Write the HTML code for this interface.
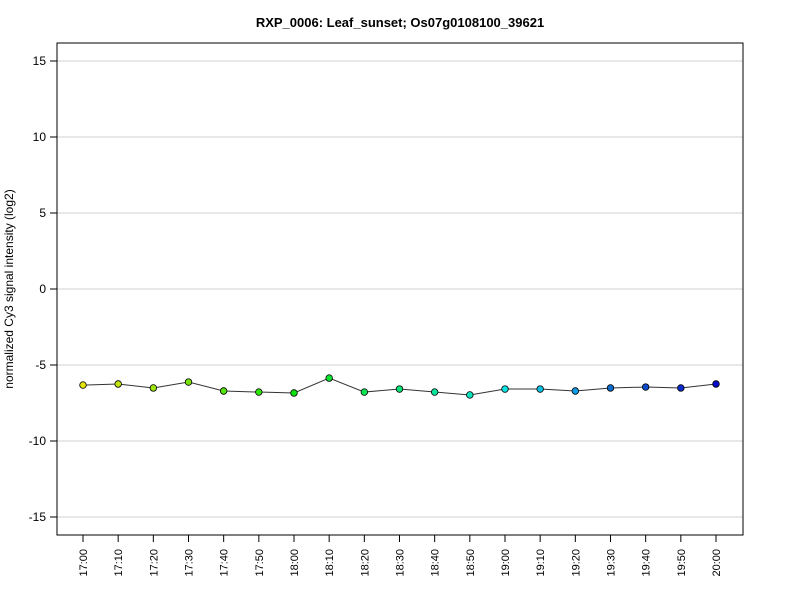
<!DOCTYPE html>
<html><head><meta charset="utf-8"><style>
body{margin:0;background:#fff;font-family:"Liberation Sans",sans-serif;}
</style></head><body>
<svg id="chart" width="800" height="600" xmlns="http://www.w3.org/2000/svg" font-family="Liberation Sans, sans-serif">
<text x="400" y="27" text-anchor="middle" font-size="13" font-weight="bold">RXP_0006: Leaf_sunset; Os07g0108100_39621</text>
<text transform="translate(13,289) rotate(-90)" text-anchor="middle" font-size="12">normalized Cy3 signal intensity (log2)</text>
<g id="grid"></g><g id="axes"></g><g id="series"></g>
<rect x="57" y="43" width="686" height="492" fill="none" stroke="#000" stroke-width="1"/>
</svg>
<script>
const categories=["17:00","17:10","17:20","17:30","17:40","17:50","18:00","18:10","18:20","18:30","18:40","18:50","19:00","19:10","19:20","19:30","19:40","19:50","20:00"];
const values=[-6.32,-6.25,-6.51,-6.12,-6.71,-6.78,-6.84,-5.86,-6.78,-6.58,-6.78,-6.97,-6.58,-6.58,-6.71,-6.51,-6.45,-6.51,-6.25];
const yTicks=[-15,-10,-5,0,5,10,15];
const NS="http://www.w3.org/2000/svg";
function yS(v){return 289-v*15.2;}
function xS(i){return 83+i*(716-83)/(categories.length-1);}
function mk(t,a,p){const e=document.createElementNS(NS,t);for(const k in a)e.setAttribute(k,a[k]);p.appendChild(e);return e;}
const grid=document.getElementById('grid'),axes=document.getElementById('axes'),ser=document.getElementById('series');
yTicks.forEach(v=>{
  const g=mk('line',{x1:57,x2:743,y1:yS(v),y2:yS(v),stroke:'#d0d0d0','stroke-width':1},grid);
  
  
  const t=mk('line',{x1:50,x2:57,y1:yS(v),y2:yS(v),stroke:'#000'},axes);
  
  
  const l=mk('text',{x:46,y:yS(v)+4,'text-anchor':'end','font-size':12},axes);
  l.textContent=v;
  
  
});
categories.forEach((c,i)=>{
  const t=mk('line',{x1:xS(i),x2:xS(i),y1:535,y2:542,stroke:'#000'},axes);
  
  
  const l=mk('text',{transform:`translate(${xS(i)+4},549) rotate(-90)`,'text-anchor':'end','font-size':11},axes);
  l.textContent=c;
  
  
});
const pl=mk('polyline',{points:values.map((v,i)=>xS(i)+','+yS(v)).join(' '),fill:'none',stroke:'#333','stroke-width':1},ser);


values.forEach((v,i)=>{
  const h=60+180*i/(values.length-1);
  const c=mk('circle',{cx:xS(i),cy:yS(v),r:3.3,fill:`hsl(${h},90%,${h>200?42:47}%)`,stroke:'#000','stroke-width':0.8},ser);
  
  
});
</script>
</body></html>
